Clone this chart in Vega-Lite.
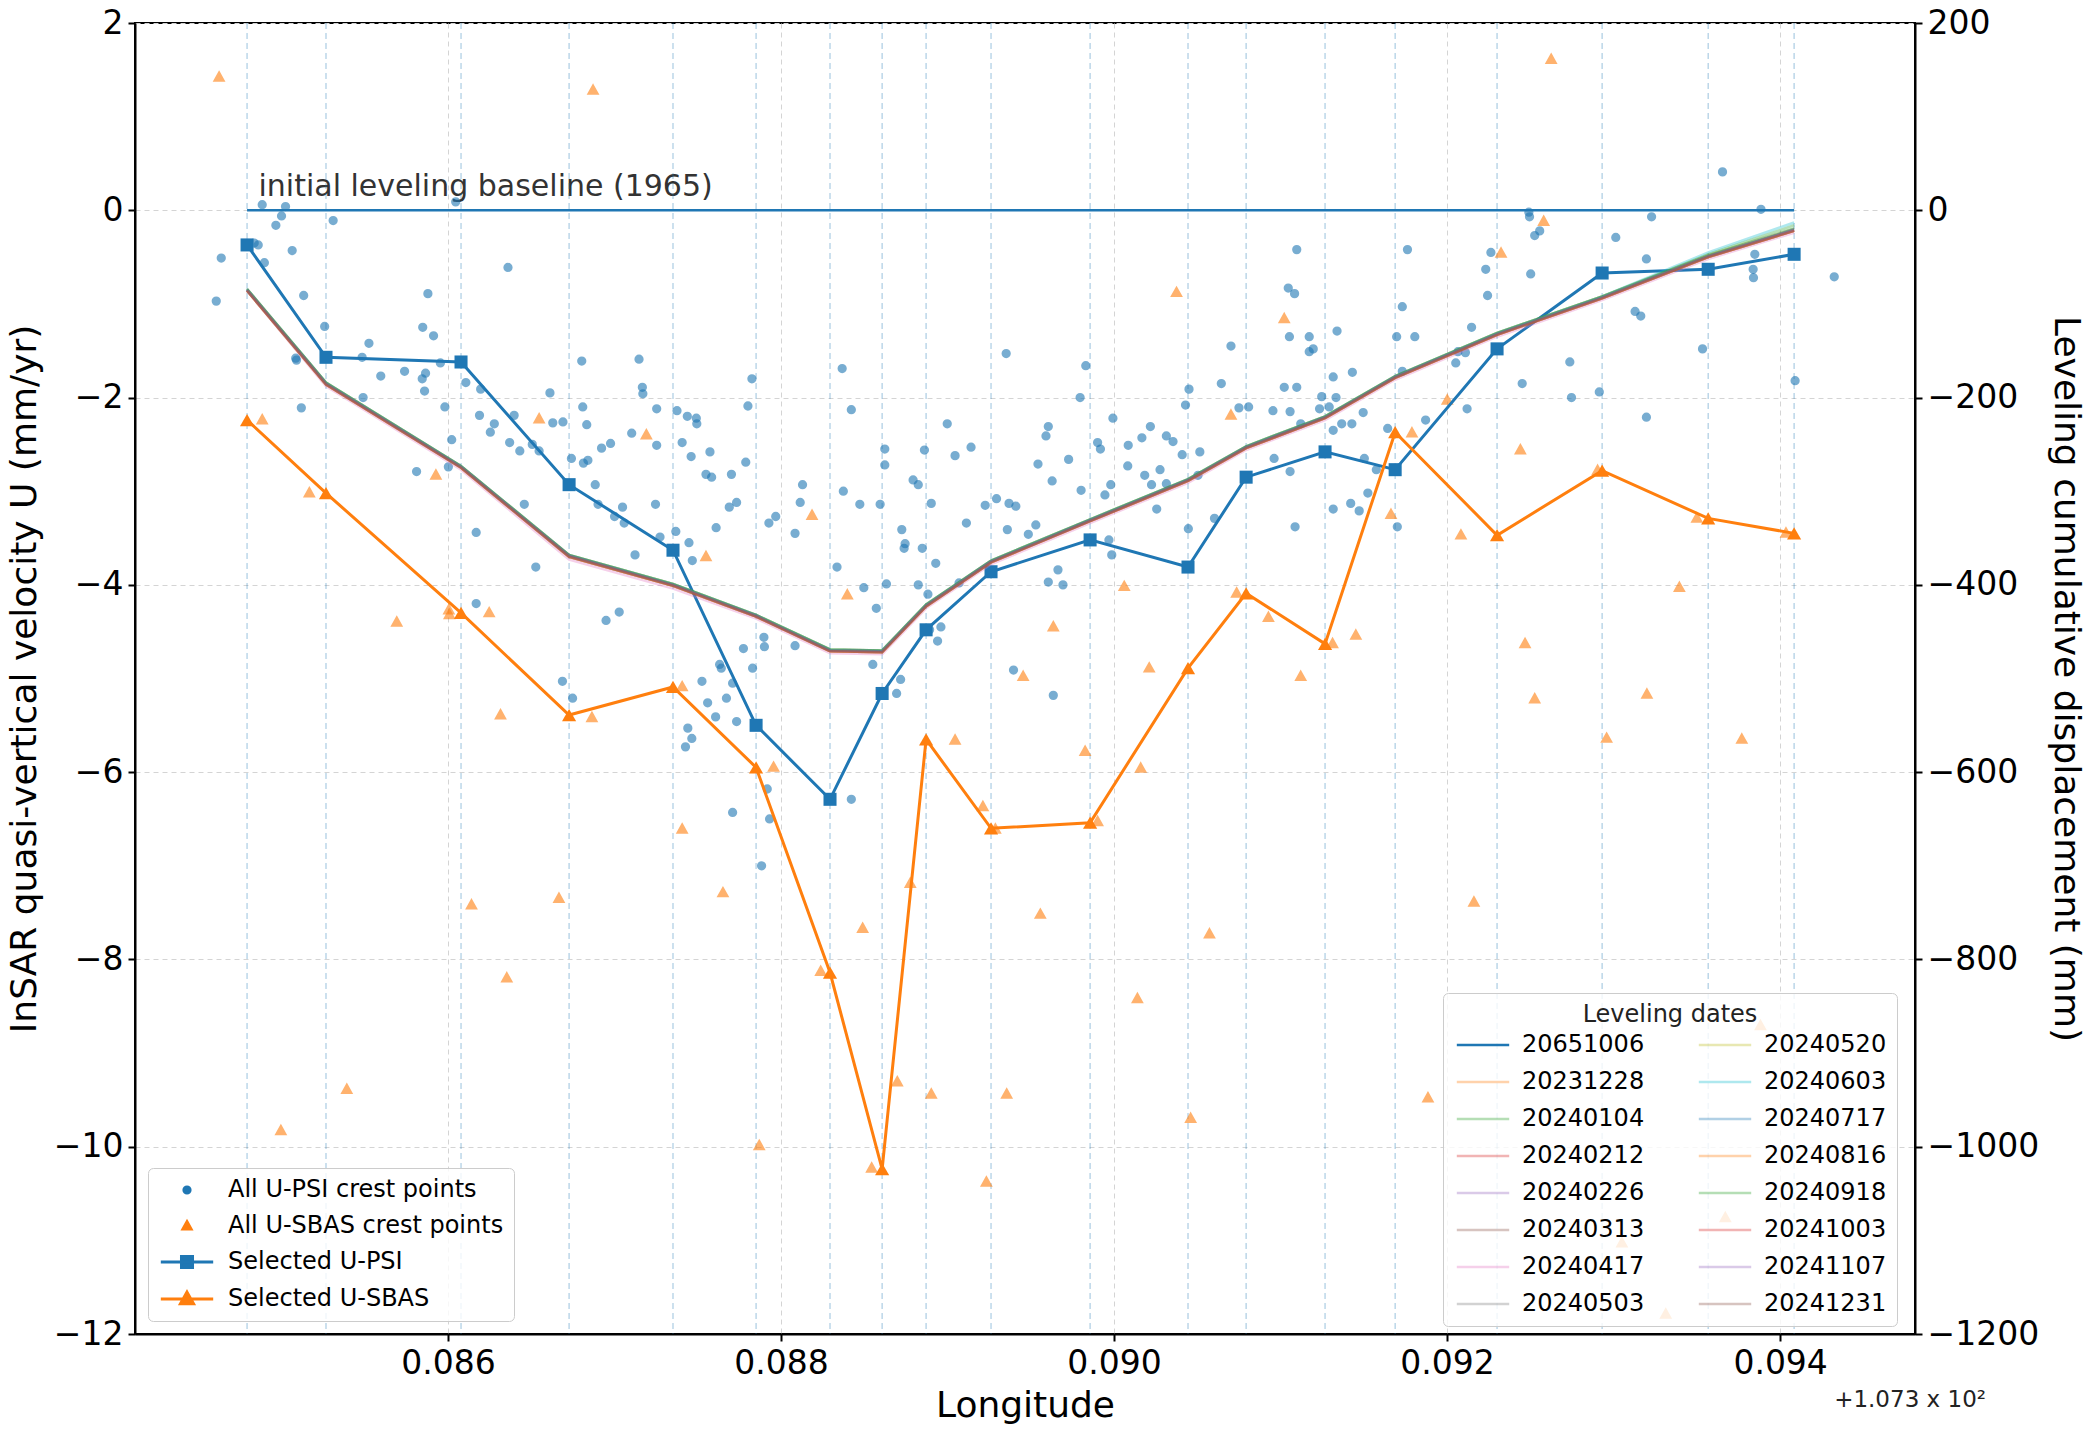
{
  "$schema": "https://vega.github.io/schema/vega-lite/v6.json",
  "width": 1780,
  "height": 1311,
  "autosize": {"type": "none"},
  "padding": {"left": 135, "top": 23, "right": 182, "bottom": 96},
  "background": "white",
  "title": {
    "text": "+1.073 x 10²",
    "orient": "bottom",
    "anchor": "end",
    "frame": "group",
    "font": "DejaVu Sans",
    "fontSize": 23,
    "fontWeight": "normal",
    "color": "#222222",
    "dx": 71,
    "offset": -34
  },
  "config": {
    "font": "DejaVu Sans",
    "view": {"stroke": "black", "strokeWidth": 2},
    "axis": {
      "labelFont": "DejaVu Sans",
      "titleFont": "DejaVu Sans",
      "labelFontSize": 33,
      "titleFontSize": 36,
      "titleFontWeight": "normal",
      "labelColor": "black",
      "titleColor": "black",
      "domainColor": "black",
      "domainWidth": 2,
      "tickColor": "black",
      "tickWidth": 2,
      "tickSize": 7,
      "labelPadding": 5,
      "gridColor": "#d4d4d4",
      "gridDash": [5, 4],
      "gridWidth": 1
    },
    "legend": {
      "labelFont": "DejaVu Sans",
      "titleFont": "DejaVu Sans",
      "labelFontSize": 24,
      "titleFontSize": 24,
      "titleFontWeight": "normal",
      "labelColor": "black",
      "titleColor": "#222222",
      "labelLimit": 500,
      "fillColor": "rgba(255,255,255,0.8)",
      "strokeColor": "#cccccc",
      "cornerRadius": 5,
      "padding": 10,
      "rowPadding": 12
    }
  },
  "datasets": {
    "stations": [
      {"station": "C2", "lon": 107.384793},
      {"station": "C3", "lon": 107.385267},
      {"station": "C4", "lon": 107.386078},
      {"station": "C5", "lon": 107.386727},
      {"station": "C6", "lon": 107.387351},
      {"station": "C7", "lon": 107.387850},
      {"station": "C7B", "lon": 107.388294},
      {"station": "C8", "lon": 107.388607},
      {"station": "C9", "lon": 107.388871},
      {"station": "C10", "lon": 107.389261},
      {"station": "C11", "lon": 107.389856},
      {"station": "C12", "lon": 107.390444},
      {"station": "C13", "lon": 107.390793},
      {"station": "C14", "lon": 107.391267},
      {"station": "C15", "lon": 107.391688},
      {"station": "C16", "lon": 107.392300},
      {"station": "C17", "lon": 107.392931},
      {"station": "C18", "lon": 107.393568},
      {"station": "C19", "lon": 107.394084}
    ],
    "selected": [
      {"series": "Selected U-PSI", "lon": 107.384793, "u": -0.37},
      {"series": "Selected U-PSI", "lon": 107.385267, "u": -1.57},
      {"series": "Selected U-PSI", "lon": 107.386078, "u": -1.62},
      {"series": "Selected U-PSI", "lon": 107.386727, "u": -2.93},
      {"series": "Selected U-PSI", "lon": 107.387351, "u": -3.63},
      {"series": "Selected U-PSI", "lon": 107.387850, "u": -5.50},
      {"series": "Selected U-PSI", "lon": 107.388294, "u": -6.29},
      {"series": "Selected U-PSI", "lon": 107.388607, "u": -5.16},
      {"series": "Selected U-PSI", "lon": 107.388871, "u": -4.48},
      {"series": "Selected U-PSI", "lon": 107.389261, "u": -3.86},
      {"series": "Selected U-PSI", "lon": 107.389856, "u": -3.52},
      {"series": "Selected U-PSI", "lon": 107.390444, "u": -3.81},
      {"series": "Selected U-PSI", "lon": 107.390793, "u": -2.85},
      {"series": "Selected U-PSI", "lon": 107.391267, "u": -2.58},
      {"series": "Selected U-PSI", "lon": 107.391688, "u": -2.77},
      {"series": "Selected U-PSI", "lon": 107.392300, "u": -1.48},
      {"series": "Selected U-PSI", "lon": 107.392931, "u": -0.67},
      {"series": "Selected U-PSI", "lon": 107.393568, "u": -0.63},
      {"series": "Selected U-PSI", "lon": 107.394084, "u": -0.47},
      {"series": "Selected U-SBAS", "lon": 107.384793, "u": -2.24},
      {"series": "Selected U-SBAS", "lon": 107.385267, "u": -3.02},
      {"series": "Selected U-SBAS", "lon": 107.386078, "u": -4.30},
      {"series": "Selected U-SBAS", "lon": 107.386727, "u": -5.39},
      {"series": "Selected U-SBAS", "lon": 107.387351, "u": -5.09},
      {"series": "Selected U-SBAS", "lon": 107.387850, "u": -5.95},
      {"series": "Selected U-SBAS", "lon": 107.388294, "u": -8.14},
      {"series": "Selected U-SBAS", "lon": 107.388607, "u": -10.24},
      {"series": "Selected U-SBAS", "lon": 107.388871, "u": -5.65},
      {"series": "Selected U-SBAS", "lon": 107.389261, "u": -6.60},
      {"series": "Selected U-SBAS", "lon": 107.389856, "u": -6.54},
      {"series": "Selected U-SBAS", "lon": 107.390444, "u": -4.89},
      {"series": "Selected U-SBAS", "lon": 107.390793, "u": -4.09},
      {"series": "Selected U-SBAS", "lon": 107.391267, "u": -4.63},
      {"series": "Selected U-SBAS", "lon": 107.391688, "u": -2.37},
      {"series": "Selected U-SBAS", "lon": 107.392300, "u": -3.47},
      {"series": "Selected U-SBAS", "lon": 107.392931, "u": -2.78},
      {"series": "Selected U-SBAS", "lon": 107.393568, "u": -3.29},
      {"series": "Selected U-SBAS", "lon": 107.394084, "u": -3.45}
    ],
    "points": [
      {"series": "All U-PSI crest points", "lon": 107.384884, "u": 0.06},
      {"series": "All U-PSI crest points", "lon": 107.385024, "u": 0.04},
      {"series": "All U-PSI crest points", "lon": 107.385000, "u": -0.06},
      {"series": "All U-PSI crest points", "lon": 107.384966, "u": -0.16},
      {"series": "All U-PSI crest points", "lon": 107.385310, "u": -0.11},
      {"series": "All U-PSI crest points", "lon": 107.386046, "u": 0.09},
      {"series": "All U-PSI crest points", "lon": 107.384836, "u": -0.35},
      {"series": "All U-PSI crest points", "lon": 107.384860, "u": -0.37},
      {"series": "All U-PSI crest points", "lon": 107.385064, "u": -0.43},
      {"series": "All U-PSI crest points", "lon": 107.384638, "u": -0.51},
      {"series": "All U-PSI crest points", "lon": 107.384897, "u": -0.56},
      {"series": "All U-PSI crest points", "lon": 107.386360, "u": -0.61},
      {"series": "All U-PSI crest points", "lon": 107.384608, "u": -0.97},
      {"series": "All U-PSI crest points", "lon": 107.385133, "u": -0.91},
      {"series": "All U-PSI crest points", "lon": 107.385879, "u": -0.89},
      {"series": "All U-PSI crest points", "lon": 107.385259, "u": -1.24},
      {"series": "All U-PSI crest points", "lon": 107.385848, "u": -1.25},
      {"series": "All U-PSI crest points", "lon": 107.385913, "u": -1.34},
      {"series": "All U-PSI crest points", "lon": 107.385525, "u": -1.42},
      {"series": "All U-PSI crest points", "lon": 107.385085, "u": -1.58},
      {"series": "All U-PSI crest points", "lon": 107.385090, "u": -1.60},
      {"series": "All U-PSI crest points", "lon": 107.385484, "u": -1.57},
      {"series": "All U-PSI crest points", "lon": 107.385596, "u": -1.77},
      {"series": "All U-PSI crest points", "lon": 107.385739, "u": -1.72},
      {"series": "All U-PSI crest points", "lon": 107.385865, "u": -1.74},
      {"series": "All U-PSI crest points", "lon": 107.385845, "u": -1.80},
      {"series": "All U-PSI crest points", "lon": 107.385859, "u": -1.93},
      {"series": "All U-PSI crest points", "lon": 107.385954, "u": -1.63},
      {"series": "All U-PSI crest points", "lon": 107.386107, "u": -1.84},
      {"series": "All U-PSI crest points", "lon": 107.386196, "u": -1.91},
      {"series": "All U-PSI crest points", "lon": 107.386803, "u": -1.61},
      {"series": "All U-PSI crest points", "lon": 107.387147, "u": -1.59},
      {"series": "All U-PSI crest points", "lon": 107.387167, "u": -1.89},
      {"series": "All U-PSI crest points", "lon": 107.387170, "u": -1.96},
      {"series": "All U-PSI crest points", "lon": 107.386612, "u": -1.95},
      {"series": "All U-PSI crest points", "lon": 107.387825, "u": -1.80},
      {"series": "All U-PSI crest points", "lon": 107.388367, "u": -1.69},
      {"series": "All U-PSI crest points", "lon": 107.388422, "u": -2.13},
      {"series": "All U-PSI crest points", "lon": 107.385490, "u": -2.00},
      {"series": "All U-PSI crest points", "lon": 107.385119, "u": -2.11},
      {"series": "All U-PSI crest points", "lon": 107.385981, "u": -2.10},
      {"series": "All U-PSI crest points", "lon": 107.386189, "u": -2.19},
      {"series": "All U-PSI crest points", "lon": 107.386397, "u": -2.19},
      {"series": "All U-PSI crest points", "lon": 107.386278, "u": -2.28},
      {"series": "All U-PSI crest points", "lon": 107.386254, "u": -2.37},
      {"series": "All U-PSI crest points", "lon": 107.386629, "u": -2.27},
      {"series": "All U-PSI crest points", "lon": 107.386690, "u": -2.26},
      {"series": "All U-PSI crest points", "lon": 107.386833, "u": -2.29},
      {"series": "All U-PSI crest points", "lon": 107.386809, "u": -2.10},
      {"series": "All U-PSI crest points", "lon": 107.387253, "u": -2.12},
      {"series": "All U-PSI crest points", "lon": 107.387375, "u": -2.14},
      {"series": "All U-PSI crest points", "lon": 107.387437, "u": -2.20},
      {"series": "All U-PSI crest points", "lon": 107.387491, "u": -2.22},
      {"series": "All U-PSI crest points", "lon": 107.387494, "u": -2.28},
      {"series": "All U-PSI crest points", "lon": 107.387801, "u": -2.09},
      {"series": "All U-PSI crest points", "lon": 107.388998, "u": -2.28},
      {"series": "All U-PSI crest points", "lon": 107.389352, "u": -1.53},
      {"series": "All U-PSI crest points", "lon": 107.386022, "u": -2.45},
      {"series": "All U-PSI crest points", "lon": 107.386370, "u": -2.48},
      {"series": "All U-PSI crest points", "lon": 107.386431, "u": -2.57},
      {"series": "All U-PSI crest points", "lon": 107.386506, "u": -2.50},
      {"series": "All U-PSI crest points", "lon": 107.386547, "u": -2.57},
      {"series": "All U-PSI crest points", "lon": 107.387103, "u": -2.38},
      {"series": "All U-PSI crest points", "lon": 107.386976, "u": -2.49},
      {"series": "All U-PSI crest points", "lon": 107.386922, "u": -2.54},
      {"series": "All U-PSI crest points", "lon": 107.387253, "u": -2.51},
      {"series": "All U-PSI crest points", "lon": 107.387406, "u": -2.48},
      {"series": "All U-PSI crest points", "lon": 107.387460, "u": -2.63},
      {"series": "All U-PSI crest points", "lon": 107.387573, "u": -2.58},
      {"series": "All U-PSI crest points", "lon": 107.387788, "u": -2.69},
      {"series": "All U-PSI crest points", "lon": 107.388623, "u": -2.55},
      {"series": "All U-PSI crest points", "lon": 107.388861, "u": -2.56},
      {"series": "All U-PSI crest points", "lon": 107.389141, "u": -2.53},
      {"series": "All U-PSI crest points", "lon": 107.389045, "u": -2.62},
      {"series": "All U-PSI crest points", "lon": 107.388623, "u": -2.72},
      {"series": "All U-PSI crest points", "lon": 107.386741, "u": -2.65},
      {"series": "All U-PSI crest points", "lon": 107.386813, "u": -2.70},
      {"series": "All U-PSI crest points", "lon": 107.386840, "u": -2.67},
      {"series": "All U-PSI crest points", "lon": 107.385811, "u": -2.79},
      {"series": "All U-PSI crest points", "lon": 107.386002, "u": -2.74},
      {"series": "All U-PSI crest points", "lon": 107.387549, "u": -2.82},
      {"series": "All U-PSI crest points", "lon": 107.387583, "u": -2.85},
      {"series": "All U-PSI crest points", "lon": 107.387702, "u": -2.82},
      {"series": "All U-PSI crest points", "lon": 107.386884, "u": -2.93},
      {"series": "All U-PSI crest points", "lon": 107.388129, "u": -2.93},
      {"series": "All U-PSI crest points", "lon": 107.388374, "u": -3.00},
      {"series": "All U-PSI crest points", "lon": 107.388793, "u": -2.88},
      {"series": "All U-PSI crest points", "lon": 107.388824, "u": -2.93},
      {"series": "All U-PSI crest points", "lon": 107.386458, "u": -3.14},
      {"series": "All U-PSI crest points", "lon": 107.387246, "u": -3.14},
      {"series": "All U-PSI crest points", "lon": 107.386901, "u": -3.14},
      {"series": "All U-PSI crest points", "lon": 107.387048, "u": -3.17},
      {"series": "All U-PSI crest points", "lon": 107.387733, "u": -3.12},
      {"series": "All U-PSI crest points", "lon": 107.387689, "u": -3.17},
      {"series": "All U-PSI crest points", "lon": 107.388115, "u": -3.12},
      {"series": "All U-PSI crest points", "lon": 107.388473, "u": -3.14},
      {"series": "All U-PSI crest points", "lon": 107.388595, "u": -3.14},
      {"series": "All U-PSI crest points", "lon": 107.388902, "u": -3.13},
      {"series": "All U-PSI crest points", "lon": 107.389226, "u": -3.15},
      {"series": "All U-PSI crest points", "lon": 107.389294, "u": -3.08},
      {"series": "All U-PSI crest points", "lon": 107.389369, "u": -3.13},
      {"series": "All U-PSI crest points", "lon": 107.389410, "u": -3.16},
      {"series": "All U-PSI crest points", "lon": 107.387000, "u": -3.27},
      {"series": "All U-PSI crest points", "lon": 107.387058, "u": -3.34},
      {"series": "All U-PSI crest points", "lon": 107.387968, "u": -3.27},
      {"series": "All U-PSI crest points", "lon": 107.387927, "u": -3.34},
      {"series": "All U-PSI crest points", "lon": 107.387610, "u": -3.39},
      {"series": "All U-PSI crest points", "lon": 107.389113, "u": -3.34},
      {"series": "All U-PSI crest points", "lon": 107.389359, "u": -3.41},
      {"series": "All U-PSI crest points", "lon": 107.388725, "u": -3.41},
      {"series": "All U-PSI crest points", "lon": 107.386169, "u": -3.44},
      {"series": "All U-PSI crest points", "lon": 107.387368, "u": -3.43},
      {"series": "All U-PSI crest points", "lon": 107.387447, "u": -3.55},
      {"series": "All U-PSI crest points", "lon": 107.387273, "u": -3.49},
      {"series": "All U-PSI crest points", "lon": 107.388084, "u": -3.45},
      {"series": "All U-PSI crest points", "lon": 107.388745, "u": -3.56},
      {"series": "All U-PSI crest points", "lon": 107.388739, "u": -3.61},
      {"series": "All U-PSI crest points", "lon": 107.388848, "u": -3.61},
      {"series": "All U-PSI crest points", "lon": 107.388929, "u": -3.77},
      {"series": "All U-PSI crest points", "lon": 107.387123, "u": -3.68},
      {"series": "All U-PSI crest points", "lon": 107.387467, "u": -3.74},
      {"series": "All U-PSI crest points", "lon": 107.386527, "u": -3.81},
      {"series": "All U-PSI crest points", "lon": 107.388336, "u": -3.81},
      {"series": "All U-PSI crest points", "lon": 107.388497, "u": -4.03},
      {"series": "All U-PSI crest points", "lon": 107.388633, "u": -3.99},
      {"series": "All U-PSI crest points", "lon": 107.388824, "u": -4.00},
      {"series": "All U-PSI crest points", "lon": 107.388882, "u": -4.10},
      {"series": "All U-PSI crest points", "lon": 107.388572, "u": -4.25},
      {"series": "All U-PSI crest points", "lon": 107.389069, "u": -3.98},
      {"series": "All U-PSI crest points", "lon": 107.386169, "u": -4.20},
      {"series": "All U-PSI crest points", "lon": 107.387028, "u": -4.29},
      {"series": "All U-PSI crest points", "lon": 107.386949, "u": -4.38},
      {"series": "All U-PSI crest points", "lon": 107.388892, "u": -4.48},
      {"series": "All U-PSI crest points", "lon": 107.388960, "u": -4.45},
      {"series": "All U-PSI crest points", "lon": 107.388940, "u": -4.60},
      {"series": "All U-PSI crest points", "lon": 107.388084, "u": -4.65},
      {"series": "All U-PSI crest points", "lon": 107.387897, "u": -4.56},
      {"series": "All U-PSI crest points", "lon": 107.387900, "u": -4.66},
      {"series": "All U-PSI crest points", "lon": 107.387774, "u": -4.68},
      {"series": "All U-PSI crest points", "lon": 107.388551, "u": -4.85},
      {"series": "All U-PSI crest points", "lon": 107.387631, "u": -4.85},
      {"series": "All U-PSI crest points", "lon": 107.387829, "u": -4.89},
      {"series": "All U-PSI crest points", "lon": 107.386687, "u": -5.03},
      {"series": "All U-PSI crest points", "lon": 107.386748, "u": -5.21},
      {"series": "All U-PSI crest points", "lon": 107.387525, "u": -5.03},
      {"series": "All U-PSI crest points", "lon": 107.387641, "u": -4.89},
      {"series": "All U-PSI crest points", "lon": 107.387709, "u": -5.05},
      {"series": "All U-PSI crest points", "lon": 107.387559, "u": -5.26},
      {"series": "All U-PSI crest points", "lon": 107.387672, "u": -5.21},
      {"series": "All U-PSI crest points", "lon": 107.387607, "u": -5.41},
      {"series": "All U-PSI crest points", "lon": 107.387733, "u": -5.46},
      {"series": "All U-PSI crest points", "lon": 107.387440, "u": -5.53},
      {"series": "All U-PSI crest points", "lon": 107.387464, "u": -5.64},
      {"series": "All U-PSI crest points", "lon": 107.387426, "u": -5.73},
      {"series": "All U-PSI crest points", "lon": 107.388718, "u": -5.01},
      {"series": "All U-PSI crest points", "lon": 107.388694, "u": -5.16},
      {"series": "All U-PSI crest points", "lon": 107.389396, "u": -4.91},
      {"series": "All U-PSI crest points", "lon": 107.387917, "u": -6.18},
      {"series": "All U-PSI crest points", "lon": 107.387709, "u": -6.43},
      {"series": "All U-PSI crest points", "lon": 107.387931, "u": -6.50},
      {"series": "All U-PSI crest points", "lon": 107.387883, "u": -7.00},
      {"series": "All U-PSI crest points", "lon": 107.388422, "u": -6.29},
      {"series": "All U-PSI crest points", "lon": 107.393654, "u": 0.41},
      {"series": "All U-PSI crest points", "lon": 107.392491, "u": -0.02},
      {"series": "All U-PSI crest points", "lon": 107.392495, "u": -0.07},
      {"series": "All U-PSI crest points", "lon": 107.393885, "u": 0.01},
      {"series": "All U-PSI crest points", "lon": 107.393228, "u": -0.07},
      {"series": "All U-PSI crest points", "lon": 107.392556, "u": -0.22},
      {"series": "All U-PSI crest points", "lon": 107.392526, "u": -0.27},
      {"series": "All U-PSI crest points", "lon": 107.393013, "u": -0.29},
      {"series": "All U-PSI crest points", "lon": 107.391097, "u": -0.42},
      {"series": "All U-PSI crest points", "lon": 107.391762, "u": -0.42},
      {"series": "All U-PSI crest points", "lon": 107.392263, "u": -0.45},
      {"series": "All U-PSI crest points", "lon": 107.392232, "u": -0.63},
      {"series": "All U-PSI crest points", "lon": 107.392502, "u": -0.68},
      {"series": "All U-PSI crest points", "lon": 107.393197, "u": -0.52},
      {"series": "All U-PSI crest points", "lon": 107.393848, "u": -0.47},
      {"series": "All U-PSI crest points", "lon": 107.393838, "u": -0.63},
      {"series": "All U-PSI crest points", "lon": 107.393840, "u": -0.72},
      {"series": "All U-PSI crest points", "lon": 107.394325, "u": -0.71},
      {"series": "All U-PSI crest points", "lon": 107.391046, "u": -0.83},
      {"series": "All U-PSI crest points", "lon": 107.391084, "u": -0.89},
      {"series": "All U-PSI crest points", "lon": 107.392243, "u": -0.91},
      {"series": "All U-PSI crest points", "lon": 107.391731, "u": -1.03},
      {"series": "All U-PSI crest points", "lon": 107.393129, "u": -1.08},
      {"series": "All U-PSI crest points", "lon": 107.393163, "u": -1.13},
      {"series": "All U-PSI crest points", "lon": 107.392147, "u": -1.25},
      {"series": "All U-PSI crest points", "lon": 107.391053, "u": -1.35},
      {"series": "All U-PSI crest points", "lon": 107.391172, "u": -1.35},
      {"series": "All U-PSI crest points", "lon": 107.391339, "u": -1.29},
      {"series": "All U-PSI crest points", "lon": 107.391697, "u": -1.35},
      {"series": "All U-PSI crest points", "lon": 107.391806, "u": -1.35},
      {"series": "All U-PSI crest points", "lon": 107.390702, "u": -1.45},
      {"series": "All U-PSI crest points", "lon": 107.391172, "u": -1.51},
      {"series": "All U-PSI crest points", "lon": 107.391196, "u": -1.48},
      {"series": "All U-PSI crest points", "lon": 107.393534, "u": -1.48},
      {"series": "All U-PSI crest points", "lon": 107.392052, "u": -1.63},
      {"series": "All U-PSI crest points", "lon": 107.392110, "u": -1.52},
      {"series": "All U-PSI crest points", "lon": 107.392065, "u": -1.51},
      {"series": "All U-PSI crest points", "lon": 107.392737, "u": -1.62},
      {"series": "All U-PSI crest points", "lon": 107.389830, "u": -1.66},
      {"series": "All U-PSI crest points", "lon": 107.391731, "u": -1.72},
      {"series": "All U-PSI crest points", "lon": 107.391316, "u": -1.78},
      {"series": "All U-PSI crest points", "lon": 107.391431, "u": -1.73},
      {"series": "All U-PSI crest points", "lon": 107.390644, "u": -1.85},
      {"series": "All U-PSI crest points", "lon": 107.391022, "u": -1.89},
      {"series": "All U-PSI crest points", "lon": 107.391097, "u": -1.89},
      {"series": "All U-PSI crest points", "lon": 107.392451, "u": -1.85},
      {"series": "All U-PSI crest points", "lon": 107.390450, "u": -1.91},
      {"series": "All U-PSI crest points", "lon": 107.390429, "u": -2.08},
      {"series": "All U-PSI crest points", "lon": 107.389796, "u": -2.00},
      {"series": "All U-PSI crest points", "lon": 107.391247, "u": -1.99},
      {"series": "All U-PSI crest points", "lon": 107.391333, "u": -2.00},
      {"series": "All U-PSI crest points", "lon": 107.392747, "u": -2.00},
      {"series": "All U-PSI crest points", "lon": 107.392914, "u": -1.94},
      {"series": "All U-PSI crest points", "lon": 107.390750, "u": -2.11},
      {"series": "All U-PSI crest points", "lon": 107.390808, "u": -2.10},
      {"series": "All U-PSI crest points", "lon": 107.390954, "u": -2.14},
      {"series": "All U-PSI crest points", "lon": 107.391057, "u": -2.15},
      {"series": "All U-PSI crest points", "lon": 107.391234, "u": -2.12},
      {"series": "All U-PSI crest points", "lon": 107.391292, "u": -2.10},
      {"series": "All U-PSI crest points", "lon": 107.391496, "u": -2.16},
      {"series": "All U-PSI crest points", "lon": 107.392120, "u": -2.12},
      {"series": "All U-PSI crest points", "lon": 107.393197, "u": -2.21},
      {"series": "All U-PSI crest points", "lon": 107.389993, "u": -2.22},
      {"series": "All U-PSI crest points", "lon": 107.389605, "u": -2.31},
      {"series": "All U-PSI crest points", "lon": 107.389591, "u": -2.41},
      {"series": "All U-PSI crest points", "lon": 107.390218, "u": -2.31},
      {"series": "All U-PSI crest points", "lon": 107.390314, "u": -2.41},
      {"series": "All U-PSI crest points", "lon": 107.390354, "u": -2.47},
      {"series": "All U-PSI crest points", "lon": 107.390167, "u": -2.43},
      {"series": "All U-PSI crest points", "lon": 107.389901, "u": -2.48},
      {"series": "All U-PSI crest points", "lon": 107.389918, "u": -2.55},
      {"series": "All U-PSI crest points", "lon": 107.390085, "u": -2.51},
      {"series": "All U-PSI crest points", "lon": 107.391121, "u": -2.28},
      {"series": "All U-PSI crest points", "lon": 107.391367, "u": -2.28},
      {"series": "All U-PSI crest points", "lon": 107.391428, "u": -2.28},
      {"series": "All U-PSI crest points", "lon": 107.391316, "u": -2.35},
      {"series": "All U-PSI crest points", "lon": 107.391643, "u": -2.33},
      {"series": "All U-PSI crest points", "lon": 107.391871, "u": -2.24},
      {"series": "All U-PSI crest points", "lon": 107.394090, "u": -1.82},
      {"series": "All U-PSI crest points", "lon": 107.390409, "u": -2.61},
      {"series": "All U-PSI crest points", "lon": 107.390515, "u": -2.58},
      {"series": "All U-PSI crest points", "lon": 107.389543, "u": -2.71},
      {"series": "All U-PSI crest points", "lon": 107.389727, "u": -2.66},
      {"series": "All U-PSI crest points", "lon": 107.390961, "u": -2.65},
      {"series": "All U-PSI crest points", "lon": 107.391503, "u": -2.65},
      {"series": "All U-PSI crest points", "lon": 107.390082, "u": -2.73},
      {"series": "All U-PSI crest points", "lon": 107.390184, "u": -2.83},
      {"series": "All U-PSI crest points", "lon": 107.390276, "u": -2.77},
      {"series": "All U-PSI crest points", "lon": 107.391057, "u": -2.79},
      {"series": "All U-PSI crest points", "lon": 107.391575, "u": -2.77},
      {"series": "All U-PSI crest points", "lon": 107.389628, "u": -2.89},
      {"series": "All U-PSI crest points", "lon": 107.389802, "u": -2.99},
      {"series": "All U-PSI crest points", "lon": 107.389980, "u": -2.93},
      {"series": "All U-PSI crest points", "lon": 107.389945, "u": -3.04},
      {"series": "All U-PSI crest points", "lon": 107.390225, "u": -2.93},
      {"series": "All U-PSI crest points", "lon": 107.390314, "u": -2.92},
      {"series": "All U-PSI crest points", "lon": 107.390504, "u": -2.83},
      {"series": "All U-PSI crest points", "lon": 107.391524, "u": -3.02},
      {"series": "All U-PSI crest points", "lon": 107.390256, "u": -3.19},
      {"series": "All U-PSI crest points", "lon": 107.391316, "u": -3.19},
      {"series": "All U-PSI crest points", "lon": 107.391421, "u": -3.13},
      {"series": "All U-PSI crest points", "lon": 107.391472, "u": -3.21},
      {"series": "All U-PSI crest points", "lon": 107.390603, "u": -3.29},
      {"series": "All U-PSI crest points", "lon": 107.390446, "u": -3.40},
      {"series": "All U-PSI crest points", "lon": 107.391087, "u": -3.38},
      {"series": "All U-PSI crest points", "lon": 107.391701, "u": -3.38},
      {"series": "All U-PSI crest points", "lon": 107.389530, "u": -3.36},
      {"series": "All U-PSI crest points", "lon": 107.389485, "u": -3.46},
      {"series": "All U-PSI crest points", "lon": 107.389969, "u": -3.52},
      {"series": "All U-PSI crest points", "lon": 107.389986, "u": -3.68},
      {"series": "All U-PSI crest points", "lon": 107.389663, "u": -3.84},
      {"series": "All U-PSI crest points", "lon": 107.389605, "u": -3.97},
      {"series": "All U-PSI crest points", "lon": 107.389693, "u": -4.00},
      {"series": "All U-PSI crest points", "lon": 107.389635, "u": -5.18},
      {"series": "All U-SBAS crest points", "lon": 107.384625, "u": 1.42},
      {"series": "All U-SBAS crest points", "lon": 107.386871, "u": 1.28},
      {"series": "All U-SBAS crest points", "lon": 107.392625, "u": 1.61},
      {"series": "All U-SBAS crest points", "lon": 107.384884, "u": -2.24},
      {"series": "All U-SBAS crest points", "lon": 107.386547, "u": -2.23},
      {"series": "All U-SBAS crest points", "lon": 107.387191, "u": -2.40},
      {"series": "All U-SBAS crest points", "lon": 107.385927, "u": -2.83},
      {"series": "All U-SBAS crest points", "lon": 107.385167, "u": -3.02},
      {"series": "All U-SBAS crest points", "lon": 107.387549, "u": -3.70},
      {"series": "All U-SBAS crest points", "lon": 107.388186, "u": -3.26},
      {"series": "All U-SBAS crest points", "lon": 107.388398, "u": -4.11},
      {"series": "All U-SBAS crest points", "lon": 107.385692, "u": -4.40},
      {"series": "All U-SBAS crest points", "lon": 107.386005, "u": -4.27},
      {"series": "All U-SBAS crest points", "lon": 107.386008, "u": -4.32},
      {"series": "All U-SBAS crest points", "lon": 107.386247, "u": -4.30},
      {"series": "All U-SBAS crest points", "lon": 107.386315, "u": -5.39},
      {"series": "All U-SBAS crest points", "lon": 107.386864, "u": -5.42},
      {"series": "All U-SBAS crest points", "lon": 107.387406, "u": -5.09},
      {"series": "All U-SBAS crest points", "lon": 107.387955, "u": -5.95},
      {"series": "All U-SBAS crest points", "lon": 107.387406, "u": -6.61},
      {"series": "All U-SBAS crest points", "lon": 107.387651, "u": -7.29},
      {"series": "All U-SBAS crest points", "lon": 107.386666, "u": -7.35},
      {"series": "All U-SBAS crest points", "lon": 107.386141, "u": -7.42},
      {"series": "All U-SBAS crest points", "lon": 107.386353, "u": -8.20},
      {"series": "All U-SBAS crest points", "lon": 107.388490, "u": -7.67},
      {"series": "All U-SBAS crest points", "lon": 107.388238, "u": -8.13},
      {"series": "All U-SBAS crest points", "lon": 107.388776, "u": -7.19},
      {"series": "All U-SBAS crest points", "lon": 107.389045, "u": -5.66},
      {"series": "All U-SBAS crest points", "lon": 107.389212, "u": -6.37},
      {"series": "All U-SBAS crest points", "lon": 107.389287, "u": -6.61},
      {"series": "All U-SBAS crest points", "lon": 107.388698, "u": -9.31},
      {"series": "All U-SBAS crest points", "lon": 107.388902, "u": -9.44},
      {"series": "All U-SBAS crest points", "lon": 107.389355, "u": -9.44},
      {"series": "All U-SBAS crest points", "lon": 107.385392, "u": -9.39},
      {"series": "All U-SBAS crest points", "lon": 107.384996, "u": -9.83},
      {"series": "All U-SBAS crest points", "lon": 107.387869, "u": -9.99},
      {"series": "All U-SBAS crest points", "lon": 107.388544, "u": -10.23},
      {"series": "All U-SBAS crest points", "lon": 107.389233, "u": -10.38},
      {"series": "All U-SBAS crest points", "lon": 107.389454, "u": -4.98},
      {"series": "All U-SBAS crest points", "lon": 107.392580, "u": -0.12},
      {"series": "All U-SBAS crest points", "lon": 107.392324, "u": -0.46},
      {"series": "All U-SBAS crest points", "lon": 107.390375, "u": -0.88},
      {"series": "All U-SBAS crest points", "lon": 107.391022, "u": -1.16},
      {"series": "All U-SBAS crest points", "lon": 107.390702, "u": -2.19},
      {"series": "All U-SBAS crest points", "lon": 107.392001, "u": -2.03},
      {"series": "All U-SBAS crest points", "lon": 107.391789, "u": -2.38},
      {"series": "All U-SBAS crest points", "lon": 107.392440, "u": -2.56},
      {"series": "All U-SBAS crest points", "lon": 107.392904, "u": -2.78},
      {"series": "All U-SBAS crest points", "lon": 107.391663, "u": -3.25},
      {"series": "All U-SBAS crest points", "lon": 107.392083, "u": -3.47},
      {"series": "All U-SBAS crest points", "lon": 107.393500, "u": -3.29},
      {"series": "All U-SBAS crest points", "lon": 107.394035, "u": -3.45},
      {"series": "All U-SBAS crest points", "lon": 107.390061, "u": -4.02},
      {"series": "All U-SBAS crest points", "lon": 107.393395, "u": -4.03},
      {"series": "All U-SBAS crest points", "lon": 107.390736, "u": -4.09},
      {"series": "All U-SBAS crest points", "lon": 107.390927, "u": -4.35},
      {"series": "All U-SBAS crest points", "lon": 107.389635, "u": -4.45},
      {"series": "All U-SBAS crest points", "lon": 107.391452, "u": -4.54},
      {"series": "All U-SBAS crest points", "lon": 107.391312, "u": -4.63},
      {"series": "All U-SBAS crest points", "lon": 107.392468, "u": -4.63},
      {"series": "All U-SBAS crest points", "lon": 107.390211, "u": -4.89},
      {"series": "All U-SBAS crest points", "lon": 107.391121, "u": -4.98},
      {"series": "All U-SBAS crest points", "lon": 107.392526, "u": -5.22},
      {"series": "All U-SBAS crest points", "lon": 107.393200, "u": -5.17},
      {"series": "All U-SBAS crest points", "lon": 107.392958, "u": -5.64},
      {"series": "All U-SBAS crest points", "lon": 107.393770, "u": -5.65},
      {"series": "All U-SBAS crest points", "lon": 107.389826, "u": -5.78},
      {"series": "All U-SBAS crest points", "lon": 107.390160, "u": -5.96},
      {"series": "All U-SBAS crest points", "lon": 107.389901, "u": -6.53},
      {"series": "All U-SBAS crest points", "lon": 107.389557, "u": -7.52},
      {"series": "All U-SBAS crest points", "lon": 107.390573, "u": -7.73},
      {"series": "All U-SBAS crest points", "lon": 107.392161, "u": -7.39},
      {"series": "All U-SBAS crest points", "lon": 107.390140, "u": -8.42},
      {"series": "All U-SBAS crest points", "lon": 107.390460, "u": -9.70},
      {"series": "All U-SBAS crest points", "lon": 107.391885, "u": -9.48},
      {"series": "All U-SBAS crest points", "lon": 107.393882, "u": -8.71},
      {"series": "All U-SBAS crest points", "lon": 107.393671, "u": -10.76},
      {"series": "All U-SBAS crest points", "lon": 107.393050, "u": -11.03},
      {"series": "All U-SBAS crest points", "lon": 107.393313, "u": -11.79}
    ],
    "leveling": [
      {"date": "20651006", "lon": 107.384793, "disp": 0},
      {"date": "20651006", "lon": 107.394084, "disp": 0},
      {"date": "20231228", "lon": 107.384793, "disp": -84}, {"date": "20231228", "lon": 107.385267, "disp": -184}, {"date": "20231228", "lon": 107.386078, "disp": -273}, {"date": "20231228", "lon": 107.386727, "disp": -368}, {"date": "20231228", "lon": 107.387351, "disp": -399}, {"date": "20231228", "lon": 107.387850, "disp": -432}, {"date": "20231228", "lon": 107.388294, "disp": -469}, {"date": "20231228", "lon": 107.388607, "disp": -470}, {"date": "20231228", "lon": 107.388871, "disp": -421}, {"date": "20231228", "lon": 107.389261, "disp": -374}, {"date": "20231228", "lon": 107.389856, "disp": -330}, {"date": "20231228", "lon": 107.390444, "disp": -287}, {"date": "20231228", "lon": 107.390793, "disp": -252}, {"date": "20231228", "lon": 107.391267, "disp": -220}, {"date": "20231228", "lon": 107.391688, "disp": -177}, {"date": "20231228", "lon": 107.392300, "disp": -131}, {"date": "20231228", "lon": 107.392931, "disp": -92}, {"date": "20231228", "lon": 107.393568, "disp": -48}, {"date": "20231228", "lon": 107.394084, "disp": -20},
      {"date": "20240104", "lon": 107.384793, "disp": -84}, {"date": "20240104", "lon": 107.385267, "disp": -184}, {"date": "20240104", "lon": 107.386078, "disp": -273}, {"date": "20240104", "lon": 107.386727, "disp": -368}, {"date": "20240104", "lon": 107.387351, "disp": -399}, {"date": "20240104", "lon": 107.387850, "disp": -432}, {"date": "20240104", "lon": 107.388294, "disp": -469}, {"date": "20240104", "lon": 107.388607, "disp": -470}, {"date": "20240104", "lon": 107.388871, "disp": -421}, {"date": "20240104", "lon": 107.389261, "disp": -374}, {"date": "20240104", "lon": 107.389856, "disp": -330}, {"date": "20240104", "lon": 107.390444, "disp": -287}, {"date": "20240104", "lon": 107.390793, "disp": -252}, {"date": "20240104", "lon": 107.391267, "disp": -220}, {"date": "20240104", "lon": 107.391688, "disp": -177}, {"date": "20240104", "lon": 107.392300, "disp": -131}, {"date": "20240104", "lon": 107.392931, "disp": -92}, {"date": "20240104", "lon": 107.393568, "disp": -47}, {"date": "20240104", "lon": 107.394084, "disp": -16},
      {"date": "20240212", "lon": 107.384793, "disp": -85}, {"date": "20240212", "lon": 107.385267, "disp": -185}, {"date": "20240212", "lon": 107.386078, "disp": -274}, {"date": "20240212", "lon": 107.386727, "disp": -369}, {"date": "20240212", "lon": 107.387351, "disp": -400}, {"date": "20240212", "lon": 107.387850, "disp": -433}, {"date": "20240212", "lon": 107.388294, "disp": -470}, {"date": "20240212", "lon": 107.388607, "disp": -471}, {"date": "20240212", "lon": 107.388871, "disp": -422}, {"date": "20240212", "lon": 107.389261, "disp": -375}, {"date": "20240212", "lon": 107.389856, "disp": -331}, {"date": "20240212", "lon": 107.390444, "disp": -288}, {"date": "20240212", "lon": 107.390793, "disp": -253}, {"date": "20240212", "lon": 107.391267, "disp": -221}, {"date": "20240212", "lon": 107.391688, "disp": -178}, {"date": "20240212", "lon": 107.392300, "disp": -132}, {"date": "20240212", "lon": 107.392931, "disp": -93}, {"date": "20240212", "lon": 107.393568, "disp": -49}, {"date": "20240212", "lon": 107.394084, "disp": -21},
      {"date": "20240226", "lon": 107.384793, "disp": -85}, {"date": "20240226", "lon": 107.385267, "disp": -185}, {"date": "20240226", "lon": 107.386078, "disp": -274}, {"date": "20240226", "lon": 107.386727, "disp": -369}, {"date": "20240226", "lon": 107.387351, "disp": -400}, {"date": "20240226", "lon": 107.387850, "disp": -433}, {"date": "20240226", "lon": 107.388294, "disp": -470}, {"date": "20240226", "lon": 107.388607, "disp": -471}, {"date": "20240226", "lon": 107.388871, "disp": -422}, {"date": "20240226", "lon": 107.389261, "disp": -375}, {"date": "20240226", "lon": 107.389856, "disp": -331}, {"date": "20240226", "lon": 107.390444, "disp": -288}, {"date": "20240226", "lon": 107.390793, "disp": -253}, {"date": "20240226", "lon": 107.391267, "disp": -221}, {"date": "20240226", "lon": 107.391688, "disp": -178}, {"date": "20240226", "lon": 107.392300, "disp": -132}, {"date": "20240226", "lon": 107.392931, "disp": -93}, {"date": "20240226", "lon": 107.393568, "disp": -49}, {"date": "20240226", "lon": 107.394084, "disp": -21},
      {"date": "20240313", "lon": 107.384793, "disp": -86}, {"date": "20240313", "lon": 107.385267, "disp": -186}, {"date": "20240313", "lon": 107.386078, "disp": -275}, {"date": "20240313", "lon": 107.386727, "disp": -370}, {"date": "20240313", "lon": 107.387351, "disp": -401}, {"date": "20240313", "lon": 107.387850, "disp": -434}, {"date": "20240313", "lon": 107.388294, "disp": -471}, {"date": "20240313", "lon": 107.388607, "disp": -472}, {"date": "20240313", "lon": 107.388871, "disp": -423}, {"date": "20240313", "lon": 107.389261, "disp": -376}, {"date": "20240313", "lon": 107.389856, "disp": -332}, {"date": "20240313", "lon": 107.390444, "disp": -289}, {"date": "20240313", "lon": 107.390793, "disp": -254}, {"date": "20240313", "lon": 107.391267, "disp": -222}, {"date": "20240313", "lon": 107.391688, "disp": -179}, {"date": "20240313", "lon": 107.392300, "disp": -133}, {"date": "20240313", "lon": 107.392931, "disp": -94}, {"date": "20240313", "lon": 107.393568, "disp": -50}, {"date": "20240313", "lon": 107.394084, "disp": -22},
      {"date": "20240417", "lon": 107.384793, "disp": -86}, {"date": "20240417", "lon": 107.385267, "disp": -188}, {"date": "20240417", "lon": 107.386078, "disp": -277}, {"date": "20240417", "lon": 107.386727, "disp": -373}, {"date": "20240417", "lon": 107.387351, "disp": -404}, {"date": "20240417", "lon": 107.387850, "disp": -436}, {"date": "20240417", "lon": 107.388294, "disp": -473}, {"date": "20240417", "lon": 107.388607, "disp": -474}, {"date": "20240417", "lon": 107.388871, "disp": -425}, {"date": "20240417", "lon": 107.389261, "disp": -378}, {"date": "20240417", "lon": 107.389856, "disp": -334}, {"date": "20240417", "lon": 107.390444, "disp": -291}, {"date": "20240417", "lon": 107.390793, "disp": -256}, {"date": "20240417", "lon": 107.391267, "disp": -224}, {"date": "20240417", "lon": 107.391688, "disp": -181}, {"date": "20240417", "lon": 107.392300, "disp": -135}, {"date": "20240417", "lon": 107.392931, "disp": -96}, {"date": "20240417", "lon": 107.393568, "disp": -52}, {"date": "20240417", "lon": 107.394084, "disp": -24},
      {"date": "20240503", "lon": 107.384793, "disp": -85}, {"date": "20240503", "lon": 107.385267, "disp": -185}, {"date": "20240503", "lon": 107.386078, "disp": -274}, {"date": "20240503", "lon": 107.386727, "disp": -369}, {"date": "20240503", "lon": 107.387351, "disp": -400}, {"date": "20240503", "lon": 107.387850, "disp": -433}, {"date": "20240503", "lon": 107.388294, "disp": -470}, {"date": "20240503", "lon": 107.388607, "disp": -471}, {"date": "20240503", "lon": 107.388871, "disp": -422}, {"date": "20240503", "lon": 107.389261, "disp": -375}, {"date": "20240503", "lon": 107.389856, "disp": -331}, {"date": "20240503", "lon": 107.390444, "disp": -288}, {"date": "20240503", "lon": 107.390793, "disp": -253}, {"date": "20240503", "lon": 107.391267, "disp": -221}, {"date": "20240503", "lon": 107.391688, "disp": -178}, {"date": "20240503", "lon": 107.392300, "disp": -132}, {"date": "20240503", "lon": 107.392931, "disp": -93}, {"date": "20240503", "lon": 107.393568, "disp": -49}, {"date": "20240503", "lon": 107.394084, "disp": -21},
      {"date": "20240520", "lon": 107.384793, "disp": -86}, {"date": "20240520", "lon": 107.385267, "disp": -186}, {"date": "20240520", "lon": 107.386078, "disp": -275}, {"date": "20240520", "lon": 107.386727, "disp": -370}, {"date": "20240520", "lon": 107.387351, "disp": -401}, {"date": "20240520", "lon": 107.387850, "disp": -434}, {"date": "20240520", "lon": 107.388294, "disp": -471}, {"date": "20240520", "lon": 107.388607, "disp": -472}, {"date": "20240520", "lon": 107.388871, "disp": -423}, {"date": "20240520", "lon": 107.389261, "disp": -376}, {"date": "20240520", "lon": 107.389856, "disp": -332}, {"date": "20240520", "lon": 107.390444, "disp": -289}, {"date": "20240520", "lon": 107.390793, "disp": -254}, {"date": "20240520", "lon": 107.391267, "disp": -222}, {"date": "20240520", "lon": 107.391688, "disp": -179}, {"date": "20240520", "lon": 107.392300, "disp": -133}, {"date": "20240520", "lon": 107.392931, "disp": -94}, {"date": "20240520", "lon": 107.393568, "disp": -50}, {"date": "20240520", "lon": 107.394084, "disp": -22},
      {"date": "20240603", "lon": 107.384793, "disp": -84}, {"date": "20240603", "lon": 107.385267, "disp": -184}, {"date": "20240603", "lon": 107.386078, "disp": -273}, {"date": "20240603", "lon": 107.386727, "disp": -368}, {"date": "20240603", "lon": 107.387351, "disp": -399}, {"date": "20240603", "lon": 107.387850, "disp": -432}, {"date": "20240603", "lon": 107.388294, "disp": -469}, {"date": "20240603", "lon": 107.388607, "disp": -470}, {"date": "20240603", "lon": 107.388871, "disp": -421}, {"date": "20240603", "lon": 107.389261, "disp": -374}, {"date": "20240603", "lon": 107.389856, "disp": -330}, {"date": "20240603", "lon": 107.390444, "disp": -287}, {"date": "20240603", "lon": 107.390793, "disp": -252}, {"date": "20240603", "lon": 107.391267, "disp": -220}, {"date": "20240603", "lon": 107.391688, "disp": -177}, {"date": "20240603", "lon": 107.392300, "disp": -131}, {"date": "20240603", "lon": 107.392931, "disp": -92}, {"date": "20240603", "lon": 107.393568, "disp": -45}, {"date": "20240603", "lon": 107.394084, "disp": -13},
      {"date": "20240717", "lon": 107.384793, "disp": -85}, {"date": "20240717", "lon": 107.385267, "disp": -185}, {"date": "20240717", "lon": 107.386078, "disp": -274}, {"date": "20240717", "lon": 107.386727, "disp": -369}, {"date": "20240717", "lon": 107.387351, "disp": -400}, {"date": "20240717", "lon": 107.387850, "disp": -433}, {"date": "20240717", "lon": 107.388294, "disp": -470}, {"date": "20240717", "lon": 107.388607, "disp": -471}, {"date": "20240717", "lon": 107.388871, "disp": -422}, {"date": "20240717", "lon": 107.389261, "disp": -375}, {"date": "20240717", "lon": 107.389856, "disp": -331}, {"date": "20240717", "lon": 107.390444, "disp": -288}, {"date": "20240717", "lon": 107.390793, "disp": -253}, {"date": "20240717", "lon": 107.391267, "disp": -221}, {"date": "20240717", "lon": 107.391688, "disp": -178}, {"date": "20240717", "lon": 107.392300, "disp": -132}, {"date": "20240717", "lon": 107.392931, "disp": -93}, {"date": "20240717", "lon": 107.393568, "disp": -49}, {"date": "20240717", "lon": 107.394084, "disp": -20},
      {"date": "20240816", "lon": 107.384793, "disp": -86}, {"date": "20240816", "lon": 107.385267, "disp": -186}, {"date": "20240816", "lon": 107.386078, "disp": -275}, {"date": "20240816", "lon": 107.386727, "disp": -370}, {"date": "20240816", "lon": 107.387351, "disp": -401}, {"date": "20240816", "lon": 107.387850, "disp": -434}, {"date": "20240816", "lon": 107.388294, "disp": -471}, {"date": "20240816", "lon": 107.388607, "disp": -472}, {"date": "20240816", "lon": 107.388871, "disp": -423}, {"date": "20240816", "lon": 107.389261, "disp": -376}, {"date": "20240816", "lon": 107.389856, "disp": -332}, {"date": "20240816", "lon": 107.390444, "disp": -289}, {"date": "20240816", "lon": 107.390793, "disp": -254}, {"date": "20240816", "lon": 107.391267, "disp": -222}, {"date": "20240816", "lon": 107.391688, "disp": -179}, {"date": "20240816", "lon": 107.392300, "disp": -133}, {"date": "20240816", "lon": 107.392931, "disp": -94}, {"date": "20240816", "lon": 107.393568, "disp": -50}, {"date": "20240816", "lon": 107.394084, "disp": -22},
      {"date": "20240918", "lon": 107.384793, "disp": -84}, {"date": "20240918", "lon": 107.385267, "disp": -184}, {"date": "20240918", "lon": 107.386078, "disp": -273}, {"date": "20240918", "lon": 107.386727, "disp": -368}, {"date": "20240918", "lon": 107.387351, "disp": -399}, {"date": "20240918", "lon": 107.387850, "disp": -432}, {"date": "20240918", "lon": 107.388294, "disp": -469}, {"date": "20240918", "lon": 107.388607, "disp": -470}, {"date": "20240918", "lon": 107.388871, "disp": -421}, {"date": "20240918", "lon": 107.389261, "disp": -374}, {"date": "20240918", "lon": 107.389856, "disp": -330}, {"date": "20240918", "lon": 107.390444, "disp": -287}, {"date": "20240918", "lon": 107.390793, "disp": -252}, {"date": "20240918", "lon": 107.391267, "disp": -220}, {"date": "20240918", "lon": 107.391688, "disp": -177}, {"date": "20240918", "lon": 107.392300, "disp": -131}, {"date": "20240918", "lon": 107.392931, "disp": -92}, {"date": "20240918", "lon": 107.393568, "disp": -48}, {"date": "20240918", "lon": 107.394084, "disp": -19},
      {"date": "20241003", "lon": 107.384793, "disp": -86}, {"date": "20241003", "lon": 107.385267, "disp": -186}, {"date": "20241003", "lon": 107.386078, "disp": -275}, {"date": "20241003", "lon": 107.386727, "disp": -370}, {"date": "20241003", "lon": 107.387351, "disp": -401}, {"date": "20241003", "lon": 107.387850, "disp": -434}, {"date": "20241003", "lon": 107.388294, "disp": -471}, {"date": "20241003", "lon": 107.388607, "disp": -472}, {"date": "20241003", "lon": 107.388871, "disp": -423}, {"date": "20241003", "lon": 107.389261, "disp": -376}, {"date": "20241003", "lon": 107.389856, "disp": -332}, {"date": "20241003", "lon": 107.390444, "disp": -289}, {"date": "20241003", "lon": 107.390793, "disp": -254}, {"date": "20241003", "lon": 107.391267, "disp": -222}, {"date": "20241003", "lon": 107.391688, "disp": -179}, {"date": "20241003", "lon": 107.392300, "disp": -133}, {"date": "20241003", "lon": 107.392931, "disp": -94}, {"date": "20241003", "lon": 107.393568, "disp": -50}, {"date": "20241003", "lon": 107.394084, "disp": -22},
      {"date": "20241107", "lon": 107.384793, "disp": -85}, {"date": "20241107", "lon": 107.385267, "disp": -185}, {"date": "20241107", "lon": 107.386078, "disp": -274}, {"date": "20241107", "lon": 107.386727, "disp": -369}, {"date": "20241107", "lon": 107.387351, "disp": -400}, {"date": "20241107", "lon": 107.387850, "disp": -433}, {"date": "20241107", "lon": 107.388294, "disp": -470}, {"date": "20241107", "lon": 107.388607, "disp": -471}, {"date": "20241107", "lon": 107.388871, "disp": -422}, {"date": "20241107", "lon": 107.389261, "disp": -375}, {"date": "20241107", "lon": 107.389856, "disp": -331}, {"date": "20241107", "lon": 107.390444, "disp": -288}, {"date": "20241107", "lon": 107.390793, "disp": -253}, {"date": "20241107", "lon": 107.391267, "disp": -221}, {"date": "20241107", "lon": 107.391688, "disp": -178}, {"date": "20241107", "lon": 107.392300, "disp": -132}, {"date": "20241107", "lon": 107.392931, "disp": -93}, {"date": "20241107", "lon": 107.393568, "disp": -49}, {"date": "20241107", "lon": 107.394084, "disp": -21},
      {"date": "20241231", "lon": 107.384793, "disp": -86}, {"date": "20241231", "lon": 107.385267, "disp": -186}, {"date": "20241231", "lon": 107.386078, "disp": -275}, {"date": "20241231", "lon": 107.386727, "disp": -370}, {"date": "20241231", "lon": 107.387351, "disp": -401}, {"date": "20241231", "lon": 107.387850, "disp": -434}, {"date": "20241231", "lon": 107.388294, "disp": -471}, {"date": "20241231", "lon": 107.388607, "disp": -472}, {"date": "20241231", "lon": 107.388871, "disp": -423}, {"date": "20241231", "lon": 107.389261, "disp": -376}, {"date": "20241231", "lon": 107.389856, "disp": -332}, {"date": "20241231", "lon": 107.390444, "disp": -289}, {"date": "20241231", "lon": 107.390793, "disp": -254}, {"date": "20241231", "lon": 107.391267, "disp": -222}, {"date": "20241231", "lon": 107.391688, "disp": -179}, {"date": "20241231", "lon": 107.392300, "disp": -133}, {"date": "20241231", "lon": 107.392931, "disp": -94}, {"date": "20241231", "lon": 107.393568, "disp": -50}, {"date": "20241231", "lon": 107.394084, "disp": -22}
    ]
  },
  "encoding": {
    "x": {
      "field": "lon",
      "type": "quantitative",
      "scale": {"domain": [107.38412, 107.39481], "nice": false, "zero": false},
      "axis": {
        "title": "Longitude",
        "values": [107.386, 107.388, 107.39, 107.392, 107.394],
        "labelExpr": "format(datum.value - 107.3, '.3f')",
        "grid": true,
        "labelPadding": 6,
        "titlePadding": 8
      }
    }
  },
  "layer": [
    {
      "data": {"name": "stations"},
      "mark": {"type": "rule", "color": "#1f77b4", "opacity": 0.35, "strokeDash": [6, 4], "strokeWidth": 1.3},
      "encoding": {
        "x": {
          "field": "lon",
          "type": "quantitative",
          "scale": {"domain": [107.38412, 107.39481], "nice": false, "zero": false},
          "axis": {
            "orient": "top",
            "title": "initial leveling baseline (1965)",
            "labels": false,
            "ticks": false,
            "domain": false,
            "grid": false,
            "titleX": 123,
            "titleY": 172,
            "titleAngle": 0,
            "titleAlign": "left",
            "titleBaseline": "alphabetic",
            "titleFontSize": 30,
            "titleColor": "#333333"
          }
        }
      }
    },
    {
      "encoding": {
        "y": {
          "field": "u",
          "type": "quantitative",
          "scale": {"domain": [-12, 2], "nice": false, "zero": false},
          "axis": {
            "orient": "left",
            "title": "InSAR quasi-vertical velocity U (mm/yr)",
            "values": [-12, -10, -8, -6, -4, -2, 0, 2],
            "grid": true,
            "titlePadding": 10
          }
        }
      },
      "layer": [
        {
          "data": {"name": "stations"},
          "mark": {"type": "text", "fontSize": 25, "color": "black", "baseline": "middle", "align": "center"},
          "encoding": {
            "y": {"datum": 1.72, "type": "quantitative"},
            "text": {"field": "station"}
          }
        },
        {
          "data": {"name": "points"},
          "mark": {"type": "point", "filled": false, "opacity": 0.6, "size": 260},
          "encoding": {
            "color": {
              "field": "series",
              "type": "nominal",
              "scale": {
                "domain": ["All U-PSI crest points", "All U-SBAS crest points", "Selected U-PSI", "Selected U-SBAS"],
                "range": ["#1f77b4", "#ff7f0e", "#1f77b4", "#ff7f0e"]
              },
              "legend": {
                "orient": "none", "legendX": 13, "legendY": 1145, "title": null,
                "symbolSize": 190, "symbolOffset": 17, "labelOffset": 29,
                "symbolStrokeWidth": 3, "symbolOpacity": 1
              }
            },
            "fill": {
              "field": "series",
              "type": "nominal",
              "scale": {
                "domain": ["All U-PSI crest points", "All U-SBAS crest points", "Selected U-PSI", "Selected U-SBAS"],
                "range": ["#1f77b4", "#ff7f0e", "#1f77b4", "#ff7f0e"]
              },
              "legend": {
                "orient": "none", "legendX": 13, "legendY": 1145, "title": null,
                "symbolSize": 190, "symbolOffset": 17, "labelOffset": 29,
                "symbolStrokeWidth": 3, "symbolOpacity": 1
              }
            },
            "shape": {
              "field": "series",
              "type": "nominal",
              "scale": {
                "domain": ["All U-PSI crest points", "All U-SBAS crest points", "Selected U-PSI", "Selected U-SBAS"],
                "range": [
                  "M0.45,0A0.45,0.45,0,1,1,-0.45,0A0.45,0.45,0,1,1,0.45,0Z",
                  "M0,-0.62L0.58,0.42L-0.58,0.42Z",
                  "M-3.8,0H3.8M-0.8,-0.8H0.8V0.8H-0.8Z",
                  "M-3.8,0H3.8M0,-1.0L0.95,0.7L-0.95,0.7Z"
                ]
              },
              "legend": {
                "orient": "none", "legendX": 13, "legendY": 1145, "title": null,
                "symbolSize": 190, "symbolOffset": 17, "labelOffset": 29,
                "symbolStrokeWidth": 3, "symbolOpacity": 1
              }
            }
          }
        },
        {
          "data": {"name": "selected"},
          "transform": [{"filter": "datum.series == 'Selected U-PSI'"}],
          "mark": {"type": "line", "color": "#1f77b4", "strokeWidth": 3, "point": {"filled": true, "shape": "square", "size": 170, "color": "#1f77b4", "opacity": 1}}
        },
        {
          "data": {"name": "selected"},
          "transform": [{"filter": "datum.series == 'Selected U-SBAS'"}],
          "mark": {"type": "line", "color": "#ff7f0e", "strokeWidth": 3, "point": {"filled": true, "shape": "triangle-up", "size": 200, "color": "#ff7f0e", "opacity": 1}}
        }
      ]
    },
    {
      "data": {"name": "leveling"},
      "mark": {"type": "line", "strokeWidth": 2.5},
      "encoding": {
        "x": {
          "field": "lon",
          "type": "quantitative",
          "scale": {"domain": [107.38412, 107.39481], "nice": false, "zero": false},
          "axis": null
        },
        "y": {
          "field": "disp",
          "type": "quantitative",
          "scale": {"domain": [-1200, 200], "nice": false, "zero": false},
          "axis": {
            "orient": "right",
            "title": "Leveling cumulative displacement (mm)",
            "values": [-1200, -1000, -800, -600, -400, -200, 0, 200],
            "format": "d",
            "grid": false,
            "titlePadding": 8
          }
        },
        "stroke": {
          "field": "date",
          "type": "nominal",
          "scale": {
            "domain": ["20651006", "20231228", "20240104", "20240212", "20240226", "20240313", "20240417", "20240503", "20240520", "20240603", "20240717", "20240816", "20240918", "20241003", "20241107", "20241231"],
            "range": ["#1f77b4", "rgba(255,127,14,0.35)", "rgba(44,160,44,0.35)", "rgba(214,39,40,0.35)", "rgba(148,103,189,0.35)", "rgba(140,86,75,0.35)", "rgba(227,119,194,0.35)", "rgba(127,127,127,0.35)", "rgba(188,189,34,0.35)", "rgba(23,190,207,0.35)", "rgba(31,119,180,0.35)", "rgba(255,127,14,0.35)", "rgba(44,160,44,0.35)", "rgba(214,39,40,0.35)", "rgba(148,103,189,0.35)", "rgba(140,86,75,0.35)"]
          },
          "legend": {
            "orient": "none", "legendX": 1308, "legendY": 970,
            "title": "Leveling dates", "titleAnchor": "middle", "titlePadding": 6,
            "columns": 2, "columnPadding": 48, "rowPadding": 13,
            "symbolType": "M-3.8,0H3.8", "symbolSize": 190, "symbolStrokeWidth": 2.5,
            "symbolOffset": 18, "labelOffset": 27
          }
        }
      }
    }
  ],
  "resolve": {"scale": {"y": "independent"}, "axis": {"x": "independent"}}
}
